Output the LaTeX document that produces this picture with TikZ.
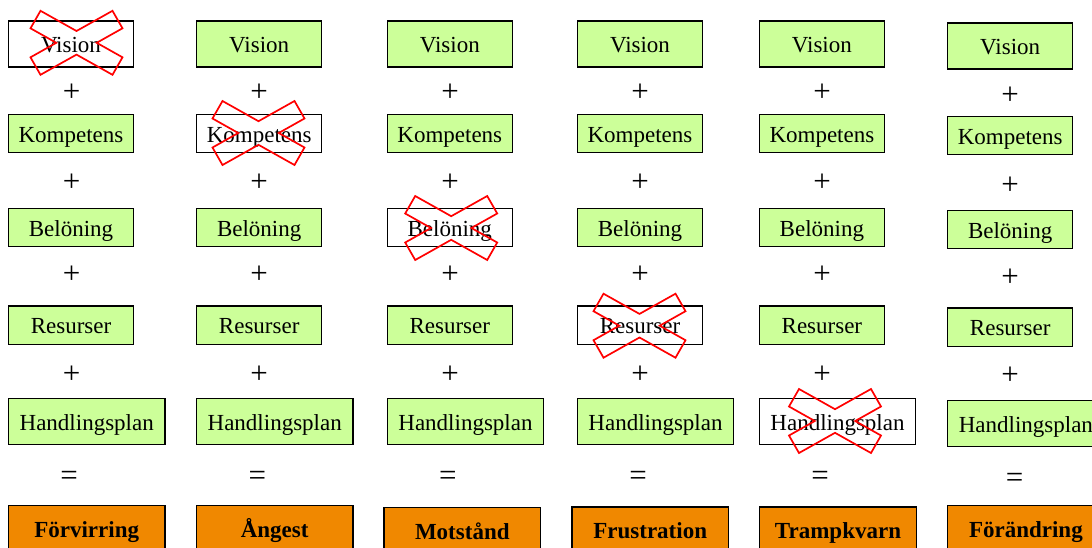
\documentclass[tikz,border=0pt]{standalone}
\usepackage{fontspec}
\setmainfont{Liberation Serif}
\definecolor{goalgreen}{RGB}{204,255,153}
\definecolor{outcomeorange}{RGB}{240,136,0}
\begin{document}
\begin{tikzpicture}[x=1pt,y=-1pt,
  every node/.style={inner sep=0pt,outer sep=0pt,anchor=center},
  boxbase/.style={draw=black,line width=1.2pt,font=\fontsize{23}{27}\selectfont,
    text height=17.4pt,text depth=0pt},
  factor/.style={boxbase,fill=goalgreen,minimum width=125pt,minimum height=38.4pt},
  tallfactor/.style={factor,minimum height=46pt},
  plan/.style={factor,minimum width=156.5pt,minimum height=46pt},
  missing/.style={fill=white},
  outcome/.style={boxbase,fill=outcomeorange,minimum width=156.5pt,minimum height=46pt,
    font=\fontsize{23}{27}\selectfont\bfseries},
  op/.style={font=\fontsize{31}{36}\selectfont},
  strike/.style={draw=red,line width=1.7pt},
  strikeX/.pic={\path[strike] (-36,-32) -- (0,-11.8) -- (36,-32) -- (46,-14.5)
    -- (20.2,0) -- (46,14.5) -- (36,32) -- (0,11.8) -- (-36,32) -- (-46,14.5)
    -- (-20.2,0) -- (-46,-14.5) -- cycle;}
]
\useasboundingbox (0,0) rectangle (1092,547);
\clip (0,0) rectangle (1092,547);

% column 1: no vision
\node[tallfactor,missing] (v1) at (71,44) {Vision};
\node[op] (p1a) at (71.7,93) {+};
\node[factor] (k1) at (71,133.5) {Kompetens};
\node[op] (p1b) at (71.7,182.8) {+};
\node[factor] (b1) at (71,227.5) {Belöning};
\node[op] (p1c) at (71.7,274.3) {+};
\node[factor] (r1) at (71,325.2) {Resurser};
\node[op] (p1d) at (71.7,374.3) {+};
\node[plan] (h1) at (86.75,421.3) {Handlingsplan};
\node[op] (e1) at (69.2,478.3) {=};
\node[outcome] (o1) at (86.7,528.7) {Förvirring};

% column 2: no competence
\node[tallfactor] (v2) at (259.2,44) {Vision};
\node[op] (p2a) at (259,93) {+};
\node[factor,missing] (k2) at (259.2,133.5) {Kompetens};
\node[op] (p2b) at (259,182.8) {+};
\node[factor] (b2) at (259.2,227.5) {Belöning};
\node[op] (p2c) at (259,274.3) {+};
\node[factor] (r2) at (259.2,325.2) {Resurser};
\node[op] (p2d) at (259,374.3) {+};
\node[plan] (h2) at (274.75,421.3) {Handlingsplan};
\node[op] (e2) at (257.3,478.3) {=};
\node[outcome] (o2) at (274.7,528.7) {Ångest};

% column 3: no reward
\node[tallfactor] (v3) at (449.8,44) {Vision};
\node[op] (p3a) at (450,93) {+};
\node[factor] (k3) at (449.8,133.5) {Kompetens};
\node[op] (p3b) at (450,182.8) {+};
\node[factor,missing] (b3) at (449.8,227.5) {Belöning};
\node[op] (p3c) at (450,274.3) {+};
\node[factor] (r3) at (449.8,325.2) {Resurser};
\node[op] (p3d) at (450,374.3) {+};
\node[plan] (h3) at (465.5,421.3) {Handlingsplan};
\node[op] (e3) at (447.8,478.3) {=};
\node[outcome] (o3) at (462.3,530.3) {Motstånd};

% column 4: no resources
\node[tallfactor] (v4) at (640,44) {Vision};
\node[op] (p4a) at (640,93) {+};
\node[factor] (k4) at (640,133.5) {Kompetens};
\node[op] (p4b) at (640,182.8) {+};
\node[factor] (b4) at (640,227.5) {Belöning};
\node[op] (p4c) at (640,274.3) {+};
\node[factor,missing] (r4) at (640,325.2) {Resurser};
\node[op] (p4d) at (640,374.3) {+};
\node[plan] (h4) at (655.5,421.3) {Handlingsplan};
\node[op] (e4) at (638,478.3) {=};
\node[outcome] (o4) at (650.2,530) {Frustration};

% column 5: no action plan
\node[tallfactor] (v5) at (821.9,44) {Vision};
\node[op] (p5a) at (822,93) {+};
\node[factor] (k5) at (821.9,133.5) {Kompetens};
\node[op] (p5b) at (822,182.8) {+};
\node[factor] (b5) at (821.9,227.5) {Belöning};
\node[op] (p5c) at (822,274.3) {+};
\node[factor] (r5) at (821.9,325.2) {Resurser};
\node[op] (p5d) at (822,374.3) {+};
\node[plan,missing] (h5) at (837.5,421.3) {Handlingsplan};
\node[op] (e5) at (820.2,478.3) {=};
\node[outcome] (o5) at (838,530) {Trampkvarn};

% column 6: everything in place
\node[tallfactor] (v6) at (1010.2,46) {Vision};
\node[op] (p6a) at (1010,95.6) {+};
\node[factor] (k6) at (1010.2,135.5) {Kompetens};
\node[op] (p6b) at (1010,185.5) {+};
\node[factor] (b6) at (1010.2,229.5) {Belöning};
\node[op] (p6c) at (1010,277.3) {+};
\node[factor] (r6) at (1010.2,327.2) {Resurser};
\node[op] (p6d) at (1010,375.9) {+};
\node[plan] (h6) at (1025.9,423.3) {Handlingsplan};
\node[op] (e6) at (1014.5,480.8) {=};
\node[outcome] (o6) at (1025.9,528.7) {Förändring};

% red crosses over the missing factors
\pic at (76.5,42.8) {strikeX};
\pic at (258.5,133) {strikeX};
\pic at (451.2,228) {strikeX};
\pic at (639.5,325.7) {strikeX};
\pic at (835,421) {strikeX};
\end{tikzpicture}
\end{document}
